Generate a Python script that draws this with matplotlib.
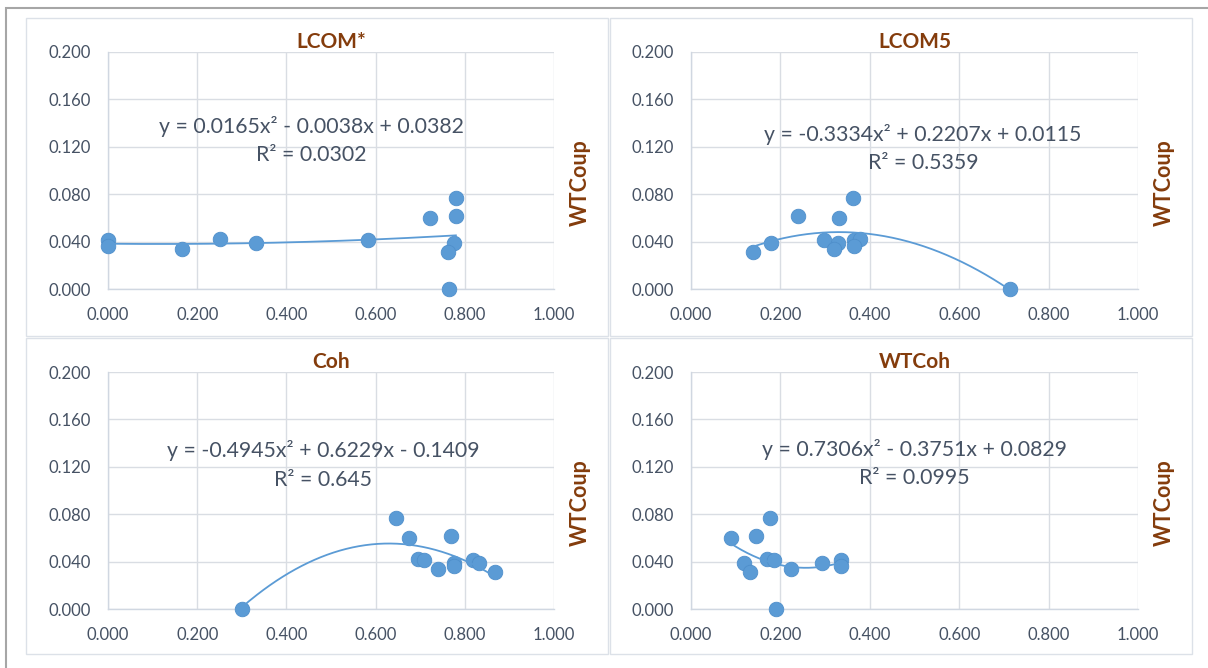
import numpy as np
import matplotlib
matplotlib.use("Agg")
import matplotlib.pyplot as plt
from matplotlib.patches import Rectangle

plt.rcParams['font.family'] = ['Lato', 'DejaVu Sans']

# data: x = cohesion metric, y = WTCoup
titles = ['LCOM*', 'LCOM5', 'Coh', 'WTCoh']

lcom_star_x = [0.000, 0.000, 0.167, 0.250, 0.332, 0.584, 0.722, 0.780, 0.780, 0.776, 0.762, 0.765]
lcom_star_y = [0.041, 0.036, 0.034, 0.042, 0.039, 0.041, 0.060, 0.077, 0.062, 0.039, 0.031, 0.000]

lcom5_x = [0.138, 0.178, 0.240, 0.298, 0.328, 0.321, 0.330, 0.363, 0.365, 0.378, 0.365, 0.714]
lcom5_y = [0.031, 0.039, 0.062, 0.041, 0.039, 0.034, 0.060, 0.077, 0.041, 0.042, 0.036, 0.000]

coh_x = [0.300, 0.646, 0.676, 0.768, 0.694, 0.709, 0.740, 0.776, 0.776, 0.819, 0.831, 0.868]
coh_y = [0.000, 0.077, 0.060, 0.062, 0.042, 0.041, 0.034, 0.039, 0.036, 0.041, 0.039, 0.031]

wtcoh_x = [0.089, 0.145, 0.177, 0.119, 0.132, 0.169, 0.186, 0.224, 0.294, 0.335, 0.335, 0.190]
wtcoh_y = [0.060, 0.062, 0.077, 0.039, 0.031, 0.042, 0.041, 0.034, 0.039, 0.041, 0.036, 0.000]

# order-2 trendline coefficients (a, b, c) and R² shown on the chart
coefs = [(0.0165, -0.0038, 0.0382),
         (-0.3334, 0.2207, 0.0115),
         (-0.4945, 0.6229, -0.1409),
         (0.7306, -0.3751, 0.0829)]
eq_labels = ['y = 0.0165x² - 0.0038x + 0.0382',
             'y = -0.3334x² + 0.2207x + 0.0115',
             'y = -0.4945x² + 0.6229x - 0.1409',
             'y = 0.7306x² - 0.3751x + 0.0829']
r2_labels = ['R² = 0.0302', 'R² = 0.5359', 'R² = 0.645', 'R² = 0.0995']

xs = [lcom_star_x, lcom5_x, coh_x, wtcoh_x]
ys = [lcom_star_y, lcom5_y, coh_y, wtcoh_y]

x_ticks = [0.0, 0.2, 0.4, 0.6, 0.8, 1.0]
y_ticks = [0.0, 0.04, 0.08, 0.12, 0.16, 0.2]

W, H = 1208, 668
fig = plt.figure(figsize=(W / 100, H / 100), dpi=100)

text_col = '#465264'
title_col = '#843C0C'
pt_col = '#5B9BD5'
grid_col = '#D9DDE3'

# outer frame and panel boxes (pixels)
fig.patches.append(Rectangle((6 / W, -0.01), 1.02, 1 - 8 / H + 0.01, transform=fig.transFigure,
                             fill=False, ec='#A6A6A6', lw=1.5))
panels = [(26, 18, 608, 336), (610, 18, 1192, 336), (26, 338, 608, 654), (610, 338, 1192, 654)]
for x0, y0, x1, y1 in panels:
    fig.patches.append(Rectangle((x0 / W, 1 - y1 / H), (x1 - x0) / W, (y1 - y0) / H,
                                 transform=fig.transFigure, fill=False, ec='#DCE1E8', lw=1.0))

axes_px = [(108, 554, 52, 289), (691, 1138, 52, 289), (108, 554, 372, 609), (691, 1138, 372, 609)]
eq_pos = [(0.456, 0.684, 0.565), (0.519, 0.654, 0.532), (0.482, 0.667, 0.544), (0.499, 0.675, 0.553)]

for i in range(4):
    l, r, t, b = axes_px[i]
    ax = fig.add_axes([l / W, 1 - b / H, (r - l) / W, (b - t) / H])
    ax.set_xlim(0, 1)
    ax.set_ylim(0, 0.2)
    ax.set_xticks(x_ticks)
    ax.set_yticks(y_ticks)
    ax.set_xticklabels([f'{v:.3f}' for v in x_ticks])
    ax.set_yticklabels([f'{v:.3f}' for v in y_ticks])
    ax.tick_params(length=0, labelsize=12, colors=text_col, pad=12)
    ax.tick_params(axis='x', pad=13)
    ax.grid(True, color=grid_col, lw=1.0)
    ax.set_axisbelow(True)
    for side in ['top', 'right']:
        ax.spines[side].set_visible(False)
    for side in ['left', 'bottom']:
        ax.spines[side].set_color('#D0D7E1')
        ax.spines[side].set_linewidth(1.0)

    ax.scatter(xs[i], ys[i], s=110, color=pt_col, edgecolors='#4F8FCB', linewidths=0.6,
               zorder=3, clip_on=False)

    a, bb, c = coefs[i]
    xx = np.linspace(min(xs[i]), max(xs[i]), 200)
    ax.plot(xx, np.polyval([a, bb, c], xx), color=pt_col, lw=1.3, zorder=4, clip_on=False)

    ex, ey1, ey2 = eq_pos[i]
    ax.text(ex, ey1, eq_labels[i], transform=ax.transAxes, ha='center', va='center',
            fontsize=15.3, color=text_col)
    ax.text(ex, ey2, r2_labels[i], transform=ax.transAxes, ha='center', va='center',
            fontsize=15.3, color=text_col)

    ax.set_title(titles[i], fontsize=15, fontweight='bold', color=title_col, pad=2)
    ax.text(1.059, 0.447, 'WTCoup', transform=ax.transAxes, rotation=90, ha='center',
            va='center', fontsize=15.5, fontweight='bold', color=title_col)

fig.savefig('out.png', dpi=100)
